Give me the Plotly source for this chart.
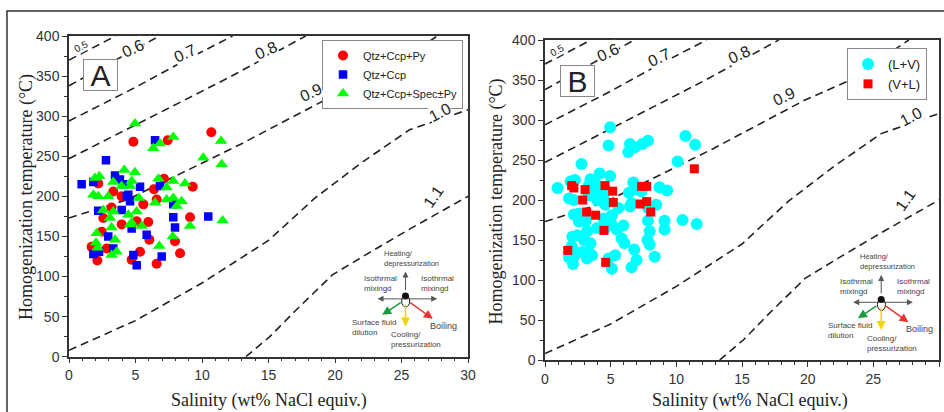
import plotly.graph_objects as go

W, H = 944, 412

# ---------------- data: panel A (three ore-stage groups) ----------------
py_sal = [2.13, 2.83, 2.46, 2.58, 3.33, 3.96, 3.96, 5.34, 5.59, 5.96, 6.04, 6.59, 6.59,
          7.97, 8.35, 9.1, 9.3, 4.84, 7.42, 10.7, 6.39, 5.09,
          1.7, 2.2, 3.2, 4.71, 7.14]
py_t = [120, 135, 156, 173, 206, 165, 200, 131, 190, 168, 146, 116, 196,
        144, 129, 174, 212, 268, 270, 280, 209, 169,
        137, 216, 186, 121, 222]

ccp_sal = [0.95, 2.78, 3.46, 3.83, 4.34, 4.59, 2.2, 6.84, 7.84, 7.84, 7.97, 10.47, 2.95,
           1.83, 2.26, 4.84, 5.09, 6.97, 5.84, 3.33, 6.47, 4.08, 4.46,
           1.83, 5.34, 3.96, 4.71]
ccp_t = [215, 245, 226, 221, 200, 194, 182, 213, 190, 174, 161, 175, 150,
         128, 131, 127, 114, 125, 152, 135, 270, 215, 202,
         218, 212, 183, 160]

spec_sal = [4.96, 6.34, 6.84, 7.84, 11.43, 10.1, 1.95, 2.28, 4.16, 4.96, 3.33, 3.96, 4.59,
            1.83, 2.2, 6.72, 8.72, 7.34, 6.47, 8.47, 2.58, 3.33, 5.09, 3.08, 4.46, 3.2,
            4.59, 5.46, 2.08, 9.1, 11.55, 7.8, 2.03, 2.15, 3.58, 3.2, 6.79, 3.46, 4.71,
            11.48, 4.71, 2.95, 5.26, 7.84, 7.34, 7.84, 8.1]
spec_t = [291, 260, 266, 274, 269, 248, 223, 225, 233, 230, 218, 213, 213,
          202, 200, 222, 216, 211, 192, 194, 183, 181, 181, 173, 177, 161,
          165, 163, 154, 163, 170, 150, 142, 136, 131, 127, 138, 146, 167,
          240, 219, 200, 198, 219, 196, 198, 188]

# ---------------- data: panel B (inclusion types) ----------------
lv_sal = [2.13, 2.83, 2.46, 2.58, 3.33, 3.96, 3.96, 5.34, 5.59, 5.96, 6.04, 6.59, 6.59,
          7.97, 8.35, 9.1, 9.3, 4.84, 7.42, 10.7, 6.39, 5.09,
          0.95, 2.78, 3.46, 3.83, 4.34, 4.59, 2.2, 6.84, 7.84, 7.84, 7.97, 10.47, 2.95,
          1.83, 2.26, 4.84, 5.09, 6.97, 5.84, 3.33, 6.47, 4.08, 4.46,
          4.96, 6.34, 6.84, 7.84, 11.43, 10.1, 1.95, 2.28, 4.16, 4.96, 3.33, 3.96, 4.59,
          1.83, 2.2, 6.72, 8.72, 7.34, 6.47, 8.47, 2.58, 3.33, 5.09, 3.08, 4.46, 3.2,
          4.59, 5.46, 2.08, 9.1, 11.55, 7.8, 2.03, 2.15, 3.58, 3.2, 6.79, 3.46, 4.71]
lv_t = [120, 135, 156, 173, 206, 165, 200, 131, 190, 168, 146, 116, 196,
        144, 129, 174, 212, 268, 270, 280, 209, 169,
        215, 245, 226, 221, 200, 194, 182, 213, 190, 174, 161, 175, 150,
        128, 131, 127, 114, 125, 152, 135, 270, 215, 202,
        291, 260, 266, 274, 269, 248, 223, 225, 233, 230, 218, 213, 213,
        202, 200, 222, 216, 211, 192, 194, 183, 181, 181, 173, 177, 161,
        165, 163, 154, 163, 170, 150, 142, 136, 131, 127, 138, 146, 167]

vl_sal = [2.03, 2.2, 3.05, 2.87, 3.17, 3.86, 4.49, 1.73, 4.62, 4.57, 5.15, 5.2,
          7.36, 7.74, 7.24, 7.74, 8.05, 11.37]
vl_t = [218, 215, 213, 200, 185, 181, 162, 137, 122, 218, 211, 197,
        217, 217, 195, 198, 185, 239]

# ---------------- fluid density isopleths (g/cm3) ----------------
iso_names = ["0.5", "0.6", "0.7", "0.8", "0.9", "1.0", "1.1"]
iso_sal = [
    [0, 3.5],
    [0, 2.5, 4.8, 6.8],
    [0, 5, 9, 12.3],
    [0, 6, 12, 17.8],
    [0, 4.4, 12.9, 19.8, 23, 27.7],
    [0, 5, 10, 15, 18.5, 22, 25.6, 30],
    [13.3, 15.1, 17, 19.8, 22.3, 25.7, 30],
]
iso_t = [
    [370, 400],
    [338, 361, 382, 400],
    [294, 336, 372, 400],
    [247, 297, 348, 400],
    [173, 196, 265, 325, 348, 400],
    [8, 45, 92, 145, 198, 242, 283, 308],
    [0, 25, 57, 102, 127, 160, 200],
]
iso_label_sal = [0.9, 4.8, 8.7, 14.8, 18.2, 27.9, 27.4]
iso_label_t = [387, 384, 378, 382, 329, 304, 200]
iso_label_angle = [-28, -25, -25, -25, -25, -28, -55]
iso_label_size = [10, 16, 16, 16, 16, 16, 16]

x_ticks = [0, 5, 10, 15, 20, 25, 30]
y_ticks = [0, 50, 100, 150, 200, 250, 300, 350, 400]

fig = go.Figure()

SANS = "Liberation Sans, Arial, sans-serif"
SERIF = "Liberation Serif, Times New Roman, serif"

for xa, ya in [("x", "y"), ("x2", "y2")]:
    for s, t in zip(iso_sal, iso_t):
        fig.add_trace(go.Scatter(x=s, y=t, mode="lines", xaxis=xa, yaxis=ya,
                                 line=dict(color="#222", width=1.6, dash="8px,5px"),
                                 showlegend=False, hoverinfo="skip"))

# panel A points
fig.add_trace(go.Scatter(x=py_sal, y=py_t, mode="markers", name="Qtz+Ccp+Py",
                         marker=dict(symbol="circle", size=10, color="#FF0000"),
                         xaxis="x", yaxis="y", legend="legend"))
fig.add_trace(go.Scatter(x=ccp_sal, y=ccp_t, mode="markers", name="Qtz+Ccp",
                         marker=dict(symbol="square", size=8.5, color="#0000FF"),
                         xaxis="x", yaxis="y", legend="legend"))
fig.add_trace(go.Scatter(x=spec_sal, y=spec_t, mode="markers", name="Qtz+Ccp+Spec±Py",
                         marker=dict(symbol="triangle-up", size=11, color="#00FF00"),
                         xaxis="x", yaxis="y", legend="legend"))
# panel B points
fig.add_trace(go.Scatter(x=lv_sal, y=lv_t, mode="markers", name="(L+V)",
                         marker=dict(symbol="circle", size=12, color="#00FFFF"),
                         xaxis="x2", yaxis="y2", legend="legend2"))
fig.add_trace(go.Scatter(x=vl_sal, y=vl_t, mode="markers", name="(V+L)",
                         marker=dict(symbol="square", size=9, color="#FF0000"),
                         xaxis="x2", yaxis="y2", legend="legend2"))

axis_common = dict(showgrid=False, zeroline=False, showline=True, linecolor="#333",
                   linewidth=1.5, mirror=True, ticks="outside", ticklen=5, tickwidth=1.2,
                   tickcolor="#333", automargin=False,
                   tickfont=dict(family=SANS, size=14, color="#333"))
xaxis_common = dict(axis_common, range=[0, 30], tickvals=x_ticks,
                    minor=dict(ticks="outside", ticklen=3, dtick=1, tickcolor="#333"))
yaxis_common = dict(axis_common, range=[0, 400], tickvals=y_ticks,
                    minor=dict(ticks="outside", ticklen=3, dtick=25, tickcolor="#333"))

fig.update_layout(
    width=W, height=H, margin=dict(l=0, r=0, t=0, b=0, autoexpand=False),
    paper_bgcolor="white", plot_bgcolor="white",
    xaxis=dict(xaxis_common, domain=[69 / W, 468 / W], anchor="y"),
    yaxis=dict(yaxis_common, domain=[1 - 356.7 / H, 1 - 36 / H], anchor="x"),
    xaxis2=dict(xaxis_common, domain=[545 / W, 939 / W], anchor="y2"),
    yaxis2=dict(yaxis_common, domain=[1 - 360 / H, 1 - 40 / H], anchor="x2"),
    legend=dict(x=322 / W, y=1 - 40 / H, xanchor="left", yanchor="top",
                bgcolor="white", bordercolor="#888", borderwidth=1,
                font=dict(family=SANS, size=11, color="#222")),
    legend2=dict(x=847 / W, y=1 - 48 / H, xanchor="left", yanchor="top",
                 bgcolor="white", bordercolor="#888", borderwidth=1,
                 font=dict(family=SANS, size=13, color="#222")),
)

ann = []
shapes = []
# isopleth labels
for xa, ya in [("x", "y"), ("x2", "y2")]:
    for name, sx, ty, ang, sz in zip(iso_names, iso_label_sal, iso_label_t,
                                     iso_label_angle, iso_label_size):
        ann.append(dict(x=sx, y=ty, xref=xa, yref=ya, text=name, showarrow=False,
                        textangle=ang, bgcolor="white", borderpad=0,
                        font=dict(family=SANS, size=sz, color="#222")))

# process-vector inset
inset_anchor = [("x", "y", 25.3, 75), ("x2", "y2", 25.6, 75)]
arrows = [  # head dx, head dy, tail dx, tail dy (px, screen y down), colour, width
    (0, -25, 0, -5, "#555", 1),
    (-28, 2.3, 0, 2.3, "#555", 1),
    (31.7, 2.3, 0, 2.3, "#555", 1),
    (-23.3, 18.3, -3.3, 5, "#1E9B3C", 1.5),
    (0, 30, 0, 6.3, "#F2D500", 1.5),
    (27.3, 22.3, 3.3, 5, "#E53333", 1.5),
]
texts = [  # text, left dx, centre dy, size
    ("Heating/<br>depressurization", -23, -38.5, 7.5),
    ("Isothrmal<br>mixingd", -43, -13.2, 8),
    ("Isothrmal<br>mixingd", 14, -13.2, 8),
    ("Surface fluid<br>dilution", -55, 30.5, 8),
    ("Cooling/<br>pressurization", -16, 43.3, 8),
    ("Boiling", 23, 29.3, 9),
]
for xa, ya, ax0, ay0 in inset_anchor:
    for hx, hy, tx, ty, c, w in arrows:
        ann.append(dict(x=ax0, y=ay0, xref=xa, yref=ya, text="", showarrow=True,
                        xshift=hx, yshift=-hy, ax=tx - hx, ay=ty - hy,
                        arrowcolor=c, arrowwidth=w, arrowhead=2, arrowsize=1.2))
    for t, dx, dy, sz in texts:
        ann.append(dict(x=ax0, y=ay0, xref=xa, yref=ya, text=t, showarrow=False,
                        xanchor="left", yanchor="middle", align="left",
                        xshift=dx, yshift=-dy,
                        font=dict(family=SANS, size=sz, color="#444")))
    shapes.append(dict(type="circle", xref=xa, yref=ya, xsizemode="pixel", ysizemode="pixel",
                       xanchor=ax0, yanchor=ay0, x0=-3.8, x1=4.2, y0=-10.5, y1=1.5,
                       fillcolor="white", line=dict(color="#111", width=1)))
    shapes.append(dict(type="circle", xref=xa, yref=ya, xsizemode="pixel", ysizemode="pixel",
                       xanchor=ax0, yanchor=ay0, x0=-3.5, x1=3.5, y0=-3, y1=4,
                       fillcolor="#111", line=dict(color="#111", width=0)))

# panel letters
for letter, cx, cy in [("A", 100.5, 75), ("B", 577, 81)]:
    ann.append(dict(x=cx / W, y=1 - cy / H, xref="paper", yref="paper", text=letter,
                    showarrow=False, xanchor="center", yanchor="middle",
                    width=33, height=30, borderpad=0, bordercolor="#888", borderwidth=1,
                    bgcolor="white", font=dict(family=SANS, size=30, color="#222")))

# axis titles
for cx in [268.5, 750]:
    ann.append(dict(x=cx / W, y=1 - 400 / H, xref="paper", yref="paper",
                    text="Salinity (wt% NaCl equiv.)", showarrow=False,
                    xanchor="center", yanchor="middle",
                    font=dict(family=SERIF, size=18, color="#222")))
for cx, cy in [(26.5, 197.5), (496, 201.5)]:
    ann.append(dict(x=cx / W, y=1 - cy / H, xref="paper", yref="paper",
                    text="Homogenization temperature (°C)", showarrow=False, textangle=-90,
                    xanchor="center", yanchor="middle",
                    font=dict(family=SERIF, size=18, color="#222")))

# outer figure frame
shapes.append(dict(type="rect", xref="paper", yref="paper", x0=7 / W, x1=1.05,
                   y0=-0.05, y1=1 - 11 / H, line=dict(color="#333", width=1.5),
                   fillcolor="rgba(0,0,0,0)", layer="below"))

fig.update_layout(annotations=ann, shapes=shapes)
fig.write_html("out.html", config={"displayModeBar": False},
               post_script="document.body.style.margin='0';document.body.style.overflow='hidden';")
